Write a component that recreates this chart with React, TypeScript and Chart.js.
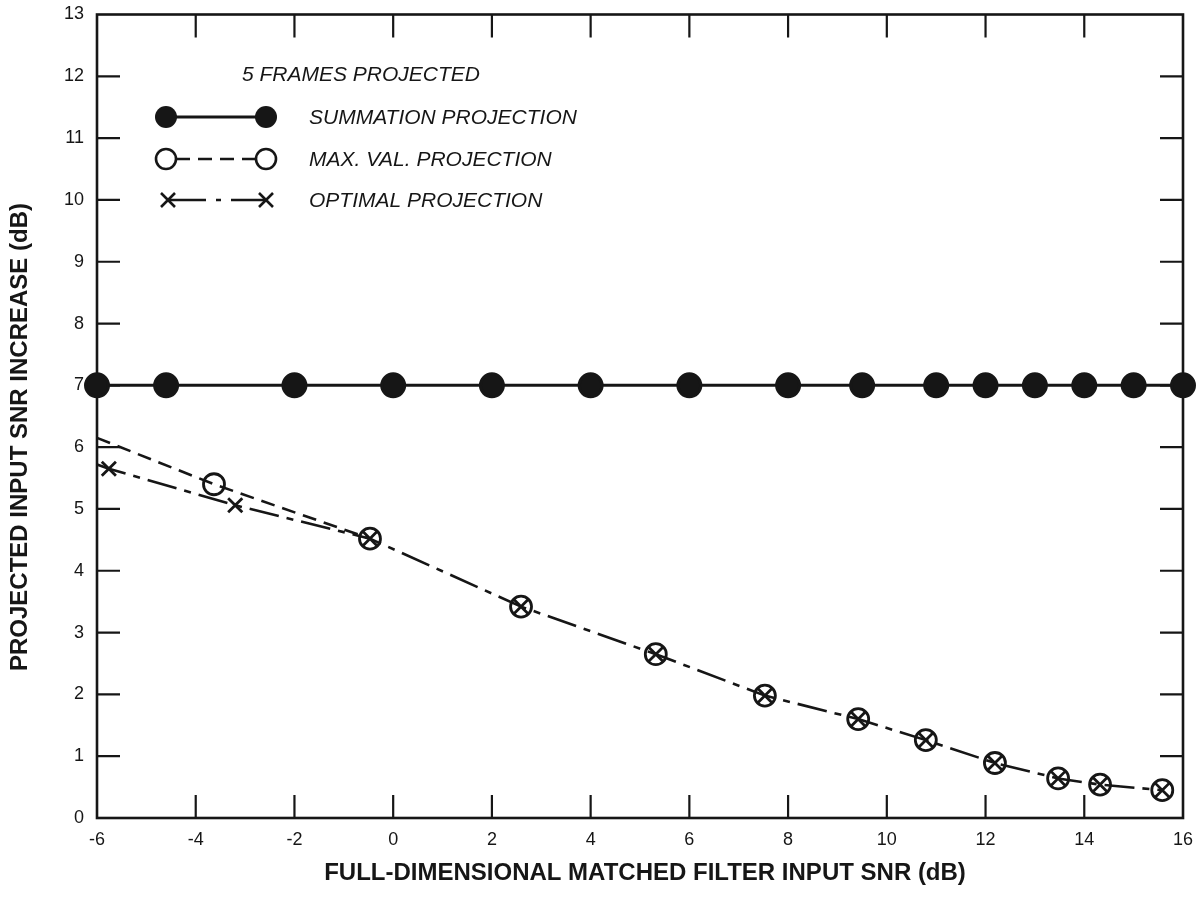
import React, { useEffect, useRef } from "react";
import { Chart, registerables } from "chart.js";

Chart.register(...registerables);

// ---- data ----
const xTickValues = [-6, -4, -2, 0, 2, 4, 6, 8, 10, 12, 14, 16];
const yTickValues = [0, 1, 2, 3, 4, 5, 6, 7, 8, 9, 10, 11, 12, 13];

const summationX = [-6, -4.6, -2, 0, 2, 4, 6, 8, 9.5, 11, 12, 13, 14, 15, 16];
const summationY = [7, 7, 7, 7, 7, 7, 7, 7, 7, 7, 7, 7, 7, 7, 7];

const maxValX = [-6, -3.63, -0.47, 2.59, 5.32, 7.53, 9.42, 10.79, 12.19, 13.47, 14.32, 15.58];
const maxValY = [6.15, 5.4, 4.52, 3.42, 2.65, 1.98, 1.6, 1.26, 0.89, 0.64, 0.54, 0.45];

const optimalX = [-6, -5.76, -3.2, -0.47, 2.59, 5.32, 7.53, 9.42, 10.79, 12.19, 13.47, 14.32, 15.58];
const optimalY = [5.72, 5.65, 5.06, 4.52, 3.42, 2.65, 1.98, 1.6, 1.26, 0.89, 0.64, 0.54, 0.45];

const legendTitle = "5 FRAMES PROJECTED";
const seriesNames = ["SUMMATION PROJECTION", "MAX. VAL. PROJECTION", "OPTIMAL PROJECTION"];
const xTitle = "FULL-DIMENSIONAL MATCHED FILTER INPUT SNR (dB)";
const yTitle = "PROJECTED INPUT SNR INCREASE (dB)";

const INK = "#161616";
const FONT = "'Liberation Sans', Arial, Helvetica, sans-serif";

const toPoints = (xs: number[], ys: number[]) => xs.map((x, i) => ({ x, y: ys[i] }));

const framePlugin = {
  id: "frameTicks",
  beforeDatasetsDraw(chart: any) {
    const { ctx, chartArea: a, scales } = chart;
    const xs = scales.x;
    const ys = scales.y;
    const tl = 23;
    ctx.save();
    ctx.strokeStyle = INK;
    ctx.lineWidth = 2.6;
    ctx.strokeRect(a.left, a.top, a.right - a.left, a.bottom - a.top);
    ctx.lineWidth = 2.2;
    ctx.beginPath();
    xTickValues.forEach((v) => {
      const px = xs.getPixelForValue(v);
      if (Math.abs(px - a.left) < 2 || Math.abs(px - a.right) < 2) return;
      ctx.moveTo(px, a.bottom);
      ctx.lineTo(px, a.bottom - tl);
      ctx.moveTo(px, a.top);
      ctx.lineTo(px, a.top + tl);
    });
    yTickValues.forEach((v) => {
      const py = ys.getPixelForValue(v);
      if (Math.abs(py - a.top) < 2 || Math.abs(py - a.bottom) < 2) return;
      ctx.moveTo(a.left, py);
      ctx.lineTo(a.left + tl, py);
      ctx.moveTo(a.right, py);
      ctx.lineTo(a.right - tl, py);
    });
    ctx.stroke();
    ctx.restore();
  },
  afterDraw(chart: any) {
    const { ctx } = chart;
    ctx.save();
    ctx.fillStyle = INK;
    ctx.strokeStyle = INK;

    // axis titles
    ctx.font = `bold 24px ${FONT}`;
    ctx.textAlign = "center";
    ctx.textBaseline = "middle";
    ctx.fillText(xTitle, 645, 873);
    ctx.save();
    ctx.translate(20, 437);
    ctx.rotate(-Math.PI / 2);
    ctx.fillText(yTitle, 0, 0);
    ctx.restore();

    // legend
    ctx.font = `italic 21px ${FONT}`;
    ctx.textAlign = "left";
    ctx.fillText(legendTitle, 242, 75);
    const rows = [117, 159, 200];
    const x0 = 166;
    const x1 = 266;
    const tx = 309;
    seriesNames.forEach((n, i) => ctx.fillText(n, tx, rows[i] + 1));

    // summation row
    ctx.lineWidth = 3;
    ctx.setLineDash([]);
    ctx.beginPath();
    ctx.moveTo(x0, rows[0]);
    ctx.lineTo(x1, rows[0]);
    ctx.stroke();
    [x0, x1].forEach((x) => {
      ctx.beginPath();
      ctx.arc(x, rows[0], 11, 0, Math.PI * 2);
      ctx.fill();
    });

    // max val row
    ctx.lineWidth = 2.6;
    ctx.setLineDash([14, 8]);
    ctx.beginPath();
    ctx.moveTo(x0 + 10, rows[1]);
    ctx.lineTo(x1 - 10, rows[1]);
    ctx.stroke();
    ctx.setLineDash([]);
    [x0, x1].forEach((x) => {
      ctx.beginPath();
      ctx.arc(x, rows[1], 10, 0, Math.PI * 2);
      ctx.stroke();
    });

    // optimal row
    ctx.lineWidth = 2.6;
    ctx.setLineDash([38, 10, 5, 10]);
    ctx.beginPath();
    ctx.moveTo(x0 + 2, rows[2]);
    ctx.lineTo(x1, rows[2]);
    ctx.stroke();
    ctx.setLineDash([]);
    [x0 + 2, x1].forEach((x) => {
      const h = 7;
      ctx.beginPath();
      ctx.moveTo(x - h, rows[2] - h);
      ctx.lineTo(x + h, rows[2] + h);
      ctx.moveTo(x - h, rows[2] + h);
      ctx.lineTo(x + h, rows[2] - h);
      ctx.stroke();
    });
    ctx.restore();
  },
};

export default function App() {
  const canvasRef = useRef<HTMLCanvasElement | null>(null);

  useEffect(() => {
    const canvas = canvasRef.current;
    if (!canvas) return;
    const chart = new Chart(canvas, {
      type: "scatter",
      data: {
        datasets: [
          {
            label: seriesNames[0],
            data: toPoints(summationX, summationY),
            showLine: true,
            borderColor: INK,
            borderWidth: 3,
            backgroundColor: INK,
            pointBackgroundColor: INK,
            pointBorderColor: INK,
            pointRadius: 11.5,
            pointStyle: "circle",
            clip: false,
          } as any,
          {
            label: seriesNames[1],
            data: toPoints(maxValX, maxValY),
            showLine: true,
            borderColor: INK,
            borderWidth: 2.6,
            borderDash: [14, 8],
            segment: {
              borderColor: (c: any) => (c.p0DataIndex >= 2 ? "rgba(0,0,0,0)" : INK),
            },
            pointBackgroundColor: "rgba(255,255,255,0)",
            pointBorderColor: INK,
            pointBorderWidth: 2.8,
            pointRadius: (c: any) => (c.dataIndex === 0 ? 0 : 10.5),
            pointStyle: "circle",
            clip: false,
          } as any,
          {
            label: seriesNames[2],
            data: toPoints(optimalX, optimalY),
            showLine: true,
            borderColor: INK,
            borderWidth: 2.6,
            borderDash: [30, 8, 7, 8],
            pointBackgroundColor: INK,
            pointBorderColor: INK,
            pointBorderWidth: 2.8,
            pointRadius: (c: any) => (c.dataIndex === 0 ? 0 : 10),
            pointStyle: "crossRot",
            clip: false,
          } as any,
        ],
      },
      options: {
        responsive: false,
        maintainAspectRatio: false,
        animation: false,
        events: [],
        layout: { padding: { top: 14, right: 17, left: 0, bottom: 0 } },
        plugins: {
          legend: { display: false },
          tooltip: { enabled: false },
          title: { display: false },
        },
        scales: {
          x: {
            type: "linear",
            min: -6,
            max: 16,
            afterBuildTicks: (s: any) => {
              s.ticks = xTickValues.map((v) => ({ value: v }));
            },
            afterFit: (s: any) => {
              s.height = 85;
              s.paddingLeft = 0;
              s.paddingRight = 0;
              s.paddingTop = 0;
              s.paddingBottom = 0;
            },
            grid: { display: false, drawTicks: false },
            border: { display: false },
            ticks: {
              color: INK,
              padding: 11,
              maxRotation: 0,
              autoSkip: false,
              font: { family: FONT, size: 18 },
            },
          },
          y: {
            type: "linear",
            min: 0,
            max: 13,
            afterBuildTicks: (s: any) => {
              s.ticks = yTickValues.map((v) => ({ value: v }));
            },
            afterFit: (s: any) => {
              s.width = 97;
              s.paddingLeft = 0;
              s.paddingRight = 0;
              s.paddingTop = 0;
              s.paddingBottom = 0;
            },
            grid: { display: false, drawTicks: false },
            border: { display: false },
            ticks: {
              color: INK,
              padding: 13,
              autoSkip: false,
              font: { family: FONT, size: 18 },
            },
          },
        },
      },
      plugins: [framePlugin],
    });
    return () => chart.destroy();
  }, []);

  return (
    <div style={{ position: "fixed", left: 0, top: 0, width: 1200, height: 903, background: "#fff" }}>
      <canvas ref={canvasRef} width={1200} height={903} style={{ width: 1200, height: 903, display: "block" }} />
    </div>
  );
}
